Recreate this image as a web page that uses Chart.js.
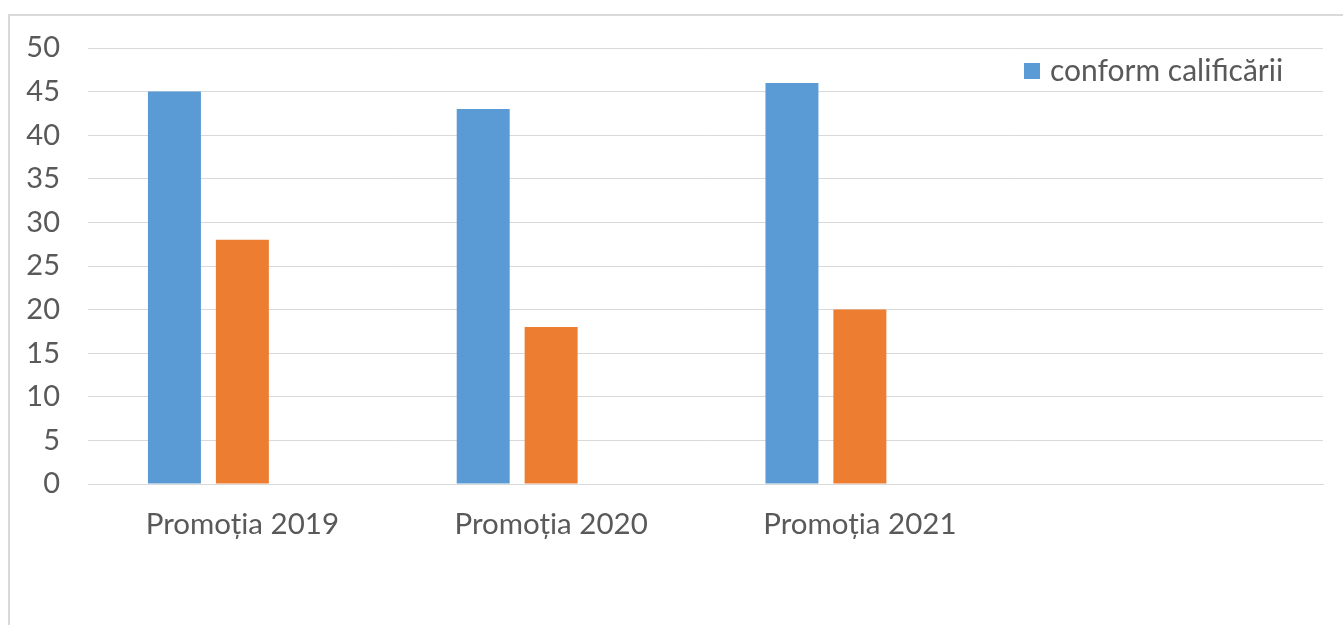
<!DOCTYPE html>
<html>
<head>
<meta charset="utf-8">
<script src="https://cdn.jsdelivr.net/npm/chart.js@4.4.1/dist/chart.umd.min.js"></script>
<style>
  html, body { margin: 0; padding: 0; background: #fff; overflow: hidden; }
  #frame {
    position: absolute; left: 8px; top: 14px;
    width: 2000px; height: 2000px;
    border: 2px solid #d9d9d9;
  }
  #wrap { position: absolute; left: 0; top: 0; width: 1343px; height: 625px; }
</style>
</head>
<body>
<div id="frame"></div>
<div id="wrap"><canvas id="chart"></canvas></div>
<script>
// date
const categories = ['Promoția 2019', 'Promoția 2020', 'Promoția 2021', ''];
const seriesNames = ['conform calificării', 'seria 2', 'seria 3'];
const conformValues = [45, 43, 46, null];
const secondValues = [28, 18, 20, null];
const thirdValues = [null, null, null, null];
const yTicks = [0, 5, 10, 15, 20, 25, 30, 35, 40, 45, 50];

const textColor = '#595959';
const gridColor = '#d9d9d9';
const fontFamily = 'Lato, "Open Sans", sans-serif';

// legenda doar pentru prima serie, in coltul dreapta-sus al zonei graficului
const cornerLegend = {
    id: 'cornerLegend',
    afterDraw(chart) {
        const ds = chart.data.datasets[0];
        const area = chart.chartArea;
        const c = chart.ctx;
        const x = area.right - 299;
        const y = area.top + 23;
        c.save();
        c.fillStyle = ds.backgroundColor;
        c.fillRect(x, y - 8, 16, 16);
        c.fillStyle = textColor;
        c.font = '30px ' + fontFamily;
        c.textBaseline = 'middle';
        c.textAlign = 'left';
        c.fillText(ds.label, x + 26, y);
        c.restore();
    }
};

function buildChart() {
    const ctx = document.getElementById('chart');
    new Chart(ctx, {
        type: 'bar',
        data: {
            labels: categories,
            datasets: [
                { label: seriesNames[0], data: conformValues, backgroundColor: '#5B9BD5' },
                { label: seriesNames[1], data: secondValues, backgroundColor: '#ED7D31' },
                { label: seriesNames[2], data: thirdValues, backgroundColor: '#A5A5A5' }
            ]
        },
        options: {
            responsive: true, maintainAspectRatio: false,
            animation: false,
            layout: { padding: { left: 0, right: 20, top: 48, bottom: 0 } },
            datasets: { bar: { categoryPercentage: 0.66, barPercentage: 0.78 } },
            plugins: {
                tooltip: { enabled: false },
                legend: { display: false }
            },
            scales: {
                x: {
                    grid: { display: false, drawTicks: false },
                    border: { color: gridColor, width: 1 },
                    ticks: { color: textColor, padding: 23, font: { family: fontFamily, size: 29.5 } },
                    afterFit: s => { s.height = 141; }
                },
                y: {
                    min: 0, max: 50,
                    afterBuildTicks: s => { s.ticks = yTicks.map(v => ({ value: v })); },
                    grid: { color: gridColor, lineWidth: 1, drawTicks: false },
                    border: { display: false },
                    ticks: { color: textColor, padding: 28, font: { family: fontFamily, size: 29 } },
                    afterFit: s => { s.width = 88; }
                }
            }
        },
        plugins: [cornerLegend]
    });
}

document.addEventListener('DOMContentLoaded', buildChart);
</script>
</body>
</html>
